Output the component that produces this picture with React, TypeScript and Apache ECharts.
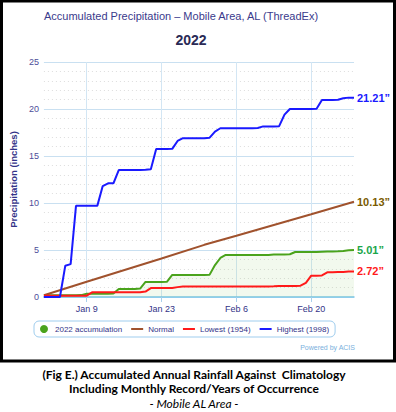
import React, { useEffect, useRef } from "react";
import * as echarts from "echarts";

// Categories: Jan 1 .. Feb 28
const months: [string, number][] = [["Jan", 31], ["Feb", 28]];
const categories: string[] = [];
months.forEach(([m, n]) => { for (let d = 1; d <= n; d++) categories.push(`${m} ${d}`); });

const tickLabels = ["Jan 9", "Jan 23", "Feb 6", "Feb 20"];

// 2022 accumulation (inches), Jan 1 .. Feb 28
const acc2022 = [
  0.18, 0.18, 0.18, 0.18, 0.18, 0.18, 0.18, 0.2, 0.35, 0.35,
  0.35, 0.35, 0.35, 0.36, 0.85, 0.85, 0.85, 0.85, 0.9, 1.6,
  1.6, 1.6, 1.6, 1.62, 2.35, 2.35, 2.35, 2.35, 2.35, 2.35,
  2.35, 2.38, 3.4, 4.15, 4.47, 4.47, 4.47, 4.47, 4.47, 4.47,
  4.47, 4.47, 4.48, 4.52, 4.52, 4.52, 4.55, 4.79, 4.8, 4.8,
  4.8, 4.8, 4.82, 4.83, 4.84, 4.86, 4.9, 4.97, 5.01,
];

// Normal (readings at selected dates, connected)
const normal: (number | null)[] = [
  0.18, null, null, null, null, null, null, null, 1.62, null,
  null, null, null, null, null, null, null, null, null, null,
  null, null, 4.1, null, null, null, null, null, null, null,
  5.55, null, null, null, null, null, 6.52, null, null, null,
  null, null, null, null, null, null, null, null, null, null,
  8.8, null, null, null, null, null, null, null, 10.13,
];

// Lowest (1954)
const lowest = [
  0.12, 0.12, 0.12, 0.12, 0.12, 0.12, 0.12, 0.12, 0.14, 0.5,
  0.5, 0.5, 0.5, 0.5, 0.5, 0.5, 0.5, 0.5, 0.5, 0.58,
  0.95, 0.95, 0.95, 0.95, 0.95, 1.05, 1.12, 1.12, 1.12, 1.12,
  1.12, 1.12, 1.12, 1.12, 1.12, 1.12, 1.12, 1.12, 1.12, 1.12,
  1.12, 1.12, 1.13, 1.14, 1.16, 1.18, 1.18, 1.18, 1.2, 1.5,
  2.27, 2.27, 2.3, 2.62, 2.62, 2.65, 2.66, 2.7, 2.72,
];

// Highest (1998)
const highest = [
  0, 0, 0, 0, 3.33, 3.5, 9.7, 9.7, 9.7, 9.7,
  9.72, 11.8, 12.1, 12.1, 13.5, 13.5, 13.5, 13.5, 13.52, 13.55,
  13.6, 15.74, 15.74, 15.74, 15.76, 16.6, 16.9, 16.9, 16.9, 16.9,
  16.9, 16.95, 17.6, 17.95, 17.95, 17.95, 17.95, 17.95, 17.95, 17.95,
  17.98, 18.15, 18.15, 18.15, 18.17, 19.4, 20.0, 20.0, 20.0, 20.0,
  20.0, 20.02, 20.96, 20.96, 20.96, 20.98, 21.15, 21.21, 21.21,
];

const seriesNames = ["2022 accumulation", "Normal", "Lowest (1954)", "Highest (1998)"];
const endLabels = ["5.01\u201D", "10.13\u201D", "2.72\u201D", "21.21\u201D"];
const lineColors = ["#4aa31c", "#a0522d", "#ff1a1a", "#1a1aff"];
const labelColors = ["#1aa64a", "#7a5a00", "#ff1a1a", "#1a1aff"];

const FONT = "Liberation Sans, Arial, sans-serif";
const TXT = "#333388";
const LINE_ICON = "path://M0,0 L24,0 L24,4 L0,4 Z";

export default function App() {
  const ref = useRef<HTMLDivElement>(null);
  useEffect(() => {
    const chart = echarts.init(ref.current!, null, { renderer: "svg" });
    const data = [acc2022, normal, lowest, highest];
    const mkSeries = (i: number) => ({
      name: seriesNames[i],
      type: "line",
      data: data[i],
      showSymbol: false,
      symbol: "none",
      connectNulls: true,
      z: i === 0 ? 2 : 3 + i,
      lineStyle: { color: lineColors[i], width: 2 },
      itemStyle: { color: lineColors[i] },
      areaStyle: i === 0 ? { color: "rgba(120,190,80,0.14)" } : undefined,
      endLabel: {
        show: true,
        formatter: endLabels[i],
        color: labelColors[i],
        fontWeight: "bold",
        fontSize: 11,
        fontFamily: FONT,
        distance: 3,
      },
      emphasis: { disabled: true },
    });
    chart.setOption({
      animation: false,
      backgroundColor: "#ffffff",
      textStyle: { fontFamily: FONT },
      grid: { left: 40, right: 42, top: 62, bottom: 115 },
      legend: {
        left: 34,
        top: 321,
        padding: [4, 6],
        itemGap: 9,
        itemWidth: 12,
        itemHeight: 8,
        borderColor: "#9fcdee",
        borderWidth: 1,
        borderRadius: 5,
        textStyle: { color: TXT, fontSize: 8, fontFamily: FONT },
        data: [
          { name: seriesNames[0], icon: "circle" },
          { name: seriesNames[1], icon: LINE_ICON },
          { name: seriesNames[2], icon: LINE_ICON },
          { name: seriesNames[3], icon: LINE_ICON },
        ],
      },
      xAxis: {
        type: "category",
        data: categories,
        boundaryGap: false,
        axisLine: { lineStyle: { color: "#7cc6ea", width: 1.5 } },
        axisTick: {
          show: true,
          length: 5,
          interval: (_i: number, v: string) => tickLabels.includes(v),
          lineStyle: { color: "#a8d0ec" },
        },
        axisLabel: {
          interval: (_i: number, v: string) => tickLabels.includes(v),
          color: TXT,
          fontSize: 9,
          margin: 7,
        },
        splitLine: {
          show: true,
          interval: (_i: number, v: string) => tickLabels.includes(v),
          lineStyle: { color: "#d3e6f4", width: 1 },
        },
      },
      yAxis: {
        type: "value",
        min: 0,
        max: 25,
        interval: 5,
        name: "Precipitation (inches)",
        nameLocation: "middle",
        nameGap: 19,
        nameTextStyle: { color: TXT, fontSize: 9.5, fontWeight: "bold" },
        axisLine: { show: false },
        axisTick: { show: false },
        axisLabel: { color: "#4d4d99", fontSize: 9, margin: 5 },
        splitLine: { lineStyle: { color: "#c9e0f1", width: 1 } },
        minorTick: { show: false, splitNumber: 5 },
        minorSplitLine: { show: true, lineStyle: { color: "#dddddd", type: [1, 3], width: 1 } },
      },
      series: [0, 1, 2, 3].map(mkSeries),
      graphic: [
        {
          type: "rect",
          shape: { x: 1.5, y: 1, width: 393, height: 360 },
          style: { fill: "none", stroke: "#000", lineWidth: 3 },
          silent: true,
        },
        {
          type: "text",
          x: 181,
          y: 16,
          style: {
            text: "Accumulated Precipitation \u2013 Mobile Area, AL (ThreadEx)",
            fill: "#3a3a8c",
            font: `11px ${FONT}`,
            align: "center",
            verticalAlign: "middle",
          },
        },
        {
          type: "text",
          x: 191,
          y: 40,
          style: {
            text: "2022",
            fill: "#2a2a55",
            font: `bold 14px ${FONT}`,
            align: "center",
            verticalAlign: "middle",
          },
        },
        {
          type: "text",
          x: 355,
          y: 347,
          style: {
            text: "Powered by ACIS",
            fill: "#7ab0dd",
            font: `7px ${FONT}`,
            align: "right",
            verticalAlign: "middle",
          },
        },
        {
          type: "text",
          x: 194,
          y: 374,
          style: {
            text: "(Fig E.) Accumulated Annual Rainfall Against  Climatology",
            fill: "#000",
            font: `bold 12px Lato, ${FONT}`,
            align: "center",
            verticalAlign: "middle",
          },
        },
        {
          type: "text",
          x: 194,
          y: 388.5,
          style: {
            text: "Including Monthly Record/Years of Occurrence",
            fill: "#000",
            font: `bold 12px Lato, ${FONT}`,
            align: "center",
            verticalAlign: "middle",
          },
        },
        {
          type: "text",
          x: 194,
          y: 403,
          style: {
            text: "- Mobile AL Area -",
            fill: "#000",
            font: `italic 12px Lato, ${FONT}`,
            align: "center",
            verticalAlign: "middle",
          },
        },
      ],
    });
    return () => chart.dispose();
  }, []);
  return (
    <div
      ref={ref}
      style={{ position: "absolute", left: 0, top: 0, width: 396, height: 412, background: "#fff" }}
    />
  );
}
